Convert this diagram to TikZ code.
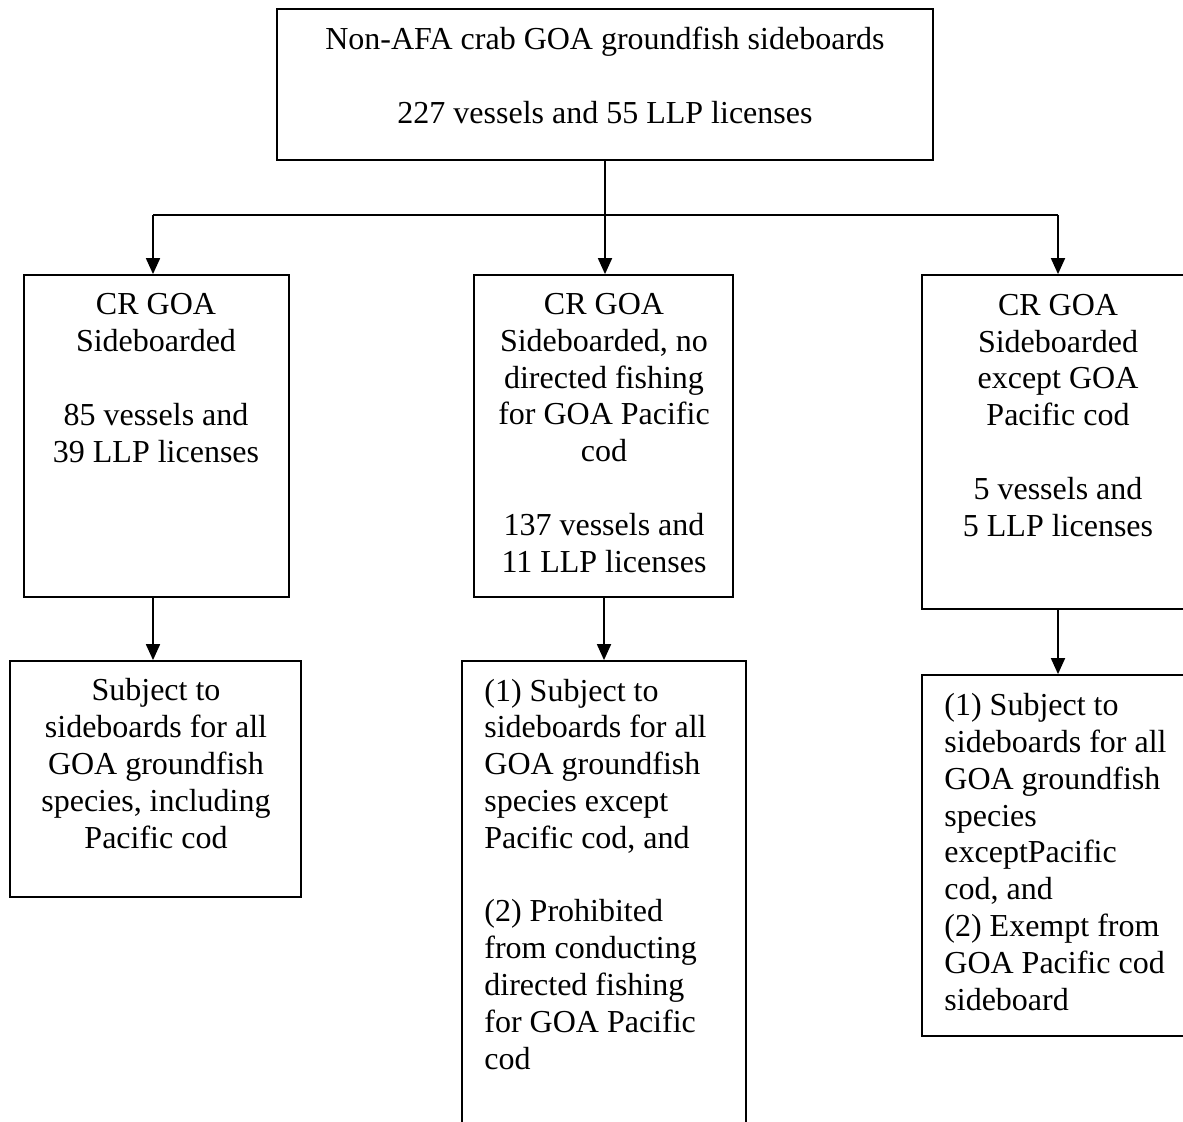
\documentclass[tikz,border=0pt]{standalone}
\usepackage{fontspec}
\setmainfont{Liberation Serif}
\usetikzlibrary{fit,arrows.meta}
\tikzset{
  box/.style={draw, line width=0.9pt, inner sep=0pt},
  txt/.style={inner sep=0pt, font=\fontsize{16}{18.4}\selectfont},
  arr/.style={line width=0.9pt, -{Triangle[length=8pt,width=7pt]}},
  ln/.style={line width=0.9pt}
}
\begin{document}
\begin{tikzpicture}[x=0.5pt,y=-0.5pt]
\useasboundingbox (0,0) rectangle (1183,1121);
% boxes
\node[box, fit={(277,9)(933,160)}] (top) {};
\node[box, fit={(24,275)(289,597)}] (A) {};
\node[box, fit={(474,275)(733,597)}] (B) {};
\node[box, fit={(922,275)(1194,609)}] (C) {};
\node[box, fit={(10,661)(301,897)}] (D) {};
\node[box, fit={(462,661)(746,1140)}] (E) {};
\node[box, fit={(922,675)(1194,1036)}] (F) {};
% texts (anchor=base is the baseline of the last line)
\node[txt, align=center, anchor=base] (topt) at (605,123) {Non-AFA crab GOA groundfish sideboards\\[18.4pt]227 vessels and 55 LLP licenses};
\node[txt, align=center, anchor=base] (At) at (156,462) {CR GOA\\Sideboarded\\[18.4pt]85 vessels and\\39 LLP licenses};
\node[txt, align=center, anchor=base] (Bt) at (604,572) {CR GOA\\Sideboarded, no\\directed fishing\\for GOA Pacific\\cod\\[18.4pt]137 vessels and\\11 LLP licenses};
\node[txt, align=center, anchor=base] (Ct) at (1058,536) {CR GOA\\Sideboarded\\except GOA\\Pacific cod\\[18.4pt]5 vessels and\\5 LLP licenses};
\node[txt, align=center, anchor=base] (Dt) at (156,848) {Subject to\\sideboards for all\\GOA groundfish\\species, including\\Pacific cod};
\node[txt, align=left, anchor=base west] (Et) at (484,1069) {(1) Subject to\\sideboards for all\\GOA groundfish\\species except\\Pacific cod, and\\[18.4pt](2) Prohibited\\from conducting\\directed fishing\\for GOA Pacific\\cod};
\node[txt, align=left, anchor=base west] (Ft) at (944,1010) {(1) Subject to\\sideboards for all\\GOA groundfish\\species\\exceptPacific\\cod, and\\(2) Exempt from\\GOA Pacific cod\\sideboard};
% connectors
\coordinate (j) at (605,215);
\coordinate (jl) at (153,215);
\coordinate (jr) at (1058,215);
\draw[ln] (top.south) -- (j);
\draw[ln] (jl) -- (jr);
\draw[arr] (jl) -- (A.north -| jl);
\draw[arr] (j) -- (B.north -| j);
\draw[arr] (jr) -- (C.north);
\draw[arr] (A.south -| jl) -- (D.north -| jl);
\draw[arr] (B.south -| E.north) -- (E.north);
\draw[arr] (C.south) -- (F.north);
\end{tikzpicture}
\end{document}
